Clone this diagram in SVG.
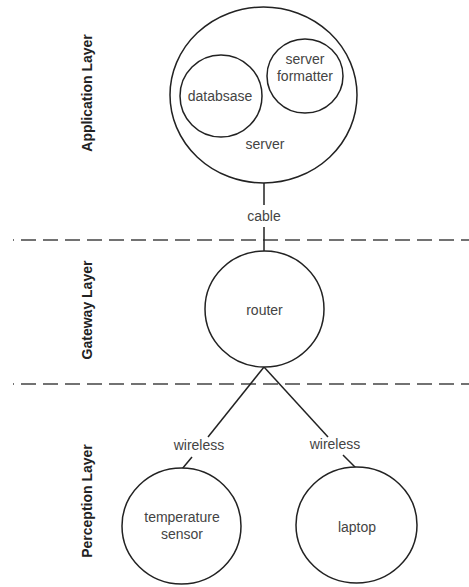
<svg xmlns="http://www.w3.org/2000/svg" width="469" height="587" viewBox="0 0 469 587">
<style>
.node{fill:#fff;stroke:#222;stroke-width:1.5}
.lbl{font-family:"Liberation Sans",Arial,sans-serif;font-size:14px;fill:#444;text-anchor:middle;dominant-baseline:central}
.layer{font-family:"Liberation Sans",Arial,sans-serif;font-size:14px;font-weight:bold;fill:#222;text-anchor:middle;dominant-baseline:central}
.edge{stroke:#222;stroke-width:1.5;fill:none}
.sep{stroke:#444;stroke-width:1.5;stroke-dasharray:15 7;stroke-dashoffset:14;fill:none}
</style>
<rect width="469" height="587" fill="#fff"/>
<g id="separators">
<line class="sep" x1="13" y1="240" x2="469" y2="240"/>
<line class="sep" x1="13" y1="384" x2="469" y2="384"/>
</g>
<g id="layer-labels">
<text class="layer" transform="translate(87,93) rotate(-90)">Application Layer</text>
<text class="layer" transform="translate(87,310) rotate(-90)">Gateway Layer</text>
<text class="layer" transform="translate(87,501) rotate(-90)">Perception Layer</text>
</g>
<g id="connectors">
<line class="edge" x1="264" y1="183" x2="264" y2="205"/>
<line class="edge" x1="264" y1="227" x2="264" y2="251"/>
<line class="edge" x1="264" y1="367" x2="208" y2="437"/>
<line class="edge" x1="192" y1="457" x2="182" y2="469"/>
<line class="edge" x1="264" y1="367" x2="328" y2="437"/>
<line class="edge" x1="343" y1="455" x2="356" y2="468"/>
<text class="lbl" x="264" y="216">cable</text>
<text class="lbl" x="199" y="445">wireless</text>
<text class="lbl" x="335" y="444">wireless</text>
</g>
<g id="server">
<ellipse class="node" cx="263.5" cy="95" rx="93.5" ry="88"/>
<text class="lbl" x="265" y="144">server</text>
</g>
<g id="database">
<ellipse class="node" cx="221" cy="96" rx="41" ry="41"/>
<text class="lbl" x="220" y="96">databsase</text>
</g>
<g id="server-formatter">
<ellipse class="node" cx="305" cy="76" rx="38" ry="37"/>
<text class="lbl" x="305" y="59">server</text>
<text class="lbl" x="305" y="76">formatter</text>
</g>
<g id="router">
<ellipse class="node" cx="264.5" cy="309" rx="59.5" ry="58"/>
<text class="lbl" x="264.5" y="310">router</text>
</g>
<g id="temperature-sensor">
<ellipse class="node" cx="181.5" cy="526" rx="59.5" ry="58"/>
<text class="lbl" x="182" y="517">temperature</text>
<text class="lbl" x="182" y="534">sensor</text>
</g>
<g id="laptop">
<ellipse class="node" cx="356.5" cy="525" rx="60.5" ry="58"/>
<text class="lbl" x="357" y="527">laptop</text>
</g>
</svg>
